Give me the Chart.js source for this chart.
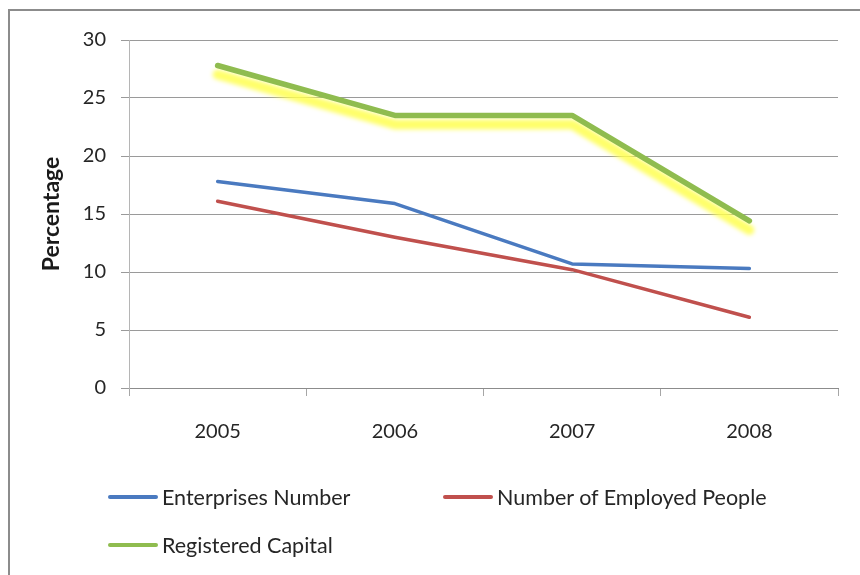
<!DOCTYPE html>
<html lang="en">
<head>
  <meta charset="utf-8">
  <title>Percentage 2005-2008</title>
  <script src="https://cdn.jsdelivr.net/npm/chart.js@4.4.1/dist/chart.umd.min.js"></script>
  <style>
    body { margin: 0; background: #fff; }
    .frame {
      position: relative;
      width: 860px;
      height: 575px;
      overflow: hidden;
      font-family: Lato, "Liberation Sans", sans-serif;
      color: #262626;
    }
    .border {
      position: absolute;
      left: 8px;
      top: 9px;
      width: 900px;
      height: 700px;
      border-top: 2px solid #8c8c8c;
      border-left: 2px solid #8c8c8c;
    }
    canvas { position: absolute; left: 0; top: 0; }
    .legend-item {
      position: absolute;
      display: flex;
      align-items: center;
      font-size: 21.5px;
      line-height: 24px;
      white-space: nowrap;
    }
    .legend-item .swatch {
      display: inline-block;
      width: 50px;
      height: 4px;
      margin-right: 4px;
      border-radius: 2px;
    }
  </style>
</head>
<body>
  <div class="frame">
    <div class="border"></div>
    <canvas id="lineChart" width="860" height="575"></canvas>
    <div id="legend"></div>
  </div>

  <script>
    var years = ['2005', '2006', '2007', '2008'];
    var enterprisesNumber = [17.8, 15.9, 10.7, 10.3];
    var employedPeople = [16.1, 13.0, 10.2, 6.1];
    var registeredCapital = [27.8, 23.5, 23.5, 14.4];
    var yTicks = [0, 5, 10, 15, 20, 25, 30];

    var seriesColors = ['#4a7ac0', '#c0504d', '#8fbc4f'];
    var seriesNames = ['Enterprises Number', 'Number of Employed People', 'Registered Capital'];

    // yellow glow drawn under the green series, like the Excel shadow effect
    var glowPlugin = {
      id: 'glow',
      beforeDatasetsDraw: function(chart) {
        var meta = chart.getDatasetMeta(2);
        var ctx = chart.ctx;
        ctx.save();
        ctx.beginPath();
        meta.data.forEach(function(pt, i) {
          if (i === 0) { ctx.moveTo(pt.x, pt.y + 9); } else { ctx.lineTo(pt.x, pt.y + 9); }
        });
        ctx.strokeStyle = 'rgba(255,255,80,0.85)';
        ctx.lineWidth = 10;
        ctx.lineJoin = 'round';
        ctx.lineCap = 'round';
        ctx.filter = 'blur(2px)';
        ctx.stroke();
        ctx.restore();
      }
    };

    function lineSet(idx, data, width, order) {
      return {
        label: seriesNames[idx],
        data: data,
        borderColor: seriesColors[idx],
        backgroundColor: seriesColors[idx],
        borderWidth: width,
        pointRadius: 0,
        pointHoverRadius: 0,
        tension: 0,
        fill: false,
        borderCapStyle: 'round',
        borderJoinStyle: 'round',
        order: order
      };
    }

    var tickFont = { family: 'Lato, "Liberation Sans", sans-serif', size: 20 };

    new Chart(document.getElementById('lineChart').getContext('2d'), {
      type: 'line',
      data: {
        labels: years,
        datasets: [
          lineSet(0, enterprisesNumber, 3.5, 3),
          lineSet(1, employedPeople, 3.5, 2),
          lineSet(2, registeredCapital, 5.5, 1)
        ]
      },
      plugins: [glowPlugin],
      options: {
        responsive: false,
        animation: false,
        layout: { padding: { top: 40, right: 22, left: 0, bottom: 0 } },
        plugins: {
          legend: { display: false },
          tooltip: { enabled: false }
        },
        scales: {
          x: {
            offset: true,
            grid: {
              offset: true,
              drawOnChartArea: false,
              drawTicks: true,
              tickLength: 8,
              color: '#a6a6a6'
            },
            border: { color: '#8c8c8c', width: 1 },
            ticks: { font: tickFont, color: '#262626', padding: 24, maxRotation: 0 },
            afterFit: function(scale) { scale.height = 187; }
          },
          y: {
            min: 0,
            max: 30,
            afterBuildTicks: function(scale) {
              scale.ticks = yTicks.map(function(v) { return { value: v }; });
            },
            grid: { color: '#9a9a9a', tickLength: 8 },
            border: { color: '#b5b5b5', width: 1 },
            ticks: { font: tickFont, color: '#262626', padding: 15 },
            title: {
              display: true,
              text: 'Percentage',
              color: '#1a1a1a',
              font: { family: 'Lato, "Liberation Sans", sans-serif', size: 23, weight: 'bold' },
              padding: { top: 38, bottom: 0 }
            },
            afterFit: function(scale) { scale.width = 129; }
          }
        }
      }
    });

    // legend laid out like the original: two items on the first row, one on the second
    var legendSpots = [[108, 485], [443, 485], [108, 533]];
    var legend = document.getElementById('legend');
    seriesNames.forEach(function(name, i) {
      var item = document.createElement('div');
      item.className = 'legend-item';
      item.style.left = legendSpots[i][0] + 'px';
      item.style.top = legendSpots[i][1] + 'px';
      item.innerHTML = '<span class="swatch" style="background:' + seriesColors[i] + '"></span>' + name;
      legend.appendChild(item);
    });
  </script>
</body>
</html>
